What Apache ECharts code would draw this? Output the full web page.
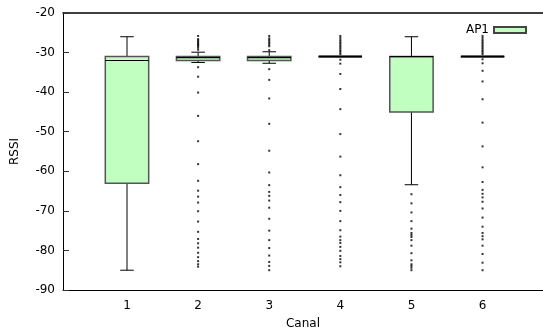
<!DOCTYPE html>
<html>
<head>
<meta charset="utf-8">
<script src="https://cdn.jsdelivr.net/npm/echarts@6/dist/echarts.min.js"></script>
<style>html,body{margin:0;padding:0;background:#fff}#c{width:543px;height:336px}</style>
</head>
<body>
<div id="c"></div>
<script>
var channels = [1, 2, 3, 4, 5, 6];
var xTickLabels = ['1', '2', '3', '4', '5', '6'];
var yTicks = [-90, -80, -70, -60, -50, -40, -30, -20];
// [min whisker, Q1, median, Q3, max whisker]
var boxStats = [
  [-85, -63, -32, -31, -26],
  [-32.5, -32, -31.3, -31, -29.9],
  [-32.7, -32, -31.3, -31, -29.8],
  [-31, -31, -31, -31, -31],
  [-63.4, -45, -31, -31, -26],
  [-31, -31, -31, -31, -31]
];
var outliers1 = [];
var outliers2 = [-25.8, -26.6, -26.9, -27.2, -27.5, -27.8, -28.1, -28.4, -28.8, -29.3,
  -33.7, -36.1, -40.1, -46.0, -52.4, -58.2, -62.4, -64.9, -66.4, -67.9, -70.1, -72.7,
  -75.3, -77.1, -78.2, -79.3, -80.6, -81.7, -82.7, -83.5, -84.1];
var outliers3 = [-25.8, -26.4, -26.8, -27.2, -27.6, -28.0, -28.4, -29.4,
  -34.2, -36.9, -41.6, -48.0, -54.8, -60.3, -63.5, -65.2, -66.2, -67.4, -69.2, -72.0,
  -75.0, -77.4, -79.4, -81.3, -82.9, -83.9, -85.0];
var outliers4 = [-25.8, -26.3, -26.8, -27.2, -27.6, -28.0, -28.4, -28.8, -29.2, -29.6, -30.0, -30.4,
  -31.8, -32.8, -35.4, -39.2, -44.3, -50.6, -56.3, -61.0, -64.0, -66.0, -67.8, -70.0,
  -72.6, -74.9, -76.5, -77.4, -78.1, -79.1, -80.1, -81.4, -82.2, -83.0, -84.0];
var outliers5 = [-65.8, -68.1, -70.4, -72.6, -74.5, -75.6, -76.1, -76.6, -77.4, -78.8,
  -80.7, -82.5, -83.5, -83.9, -84.4, -85.0];
var outliers6 = [-25.8, -26.3, -26.8, -27.2, -27.6, -28.0, -28.4, -28.8, -29.2, -29.6, -30.0, -30.4,
  -31.7, -32.7, -34.6, -37.3, -41.8, -47.7, -53.7, -59.0, -62.7, -64.7, -65.7, -66.6,
  -67.7, -69.4, -71.7, -74.0, -75.6, -76.4, -77.2, -78.8, -80.9, -83.1, -85.0];
var outlierLists = [outliers1, outliers2, outliers3, outliers4, outliers5, outliers6];

var boxData = channels.map(function (c, i) { return [c].concat(boxStats[i]); });
var outlierData = [];
outlierLists.forEach(function (list, i) {
  list.forEach(function (v) { outlierData.push([channels[i], v]); });
});

var chart = echarts.init(document.getElementById('c'), null, {renderer: 'canvas'});
var font = 'DejaVu Sans';
chart.setOption({
  animation: false,
  grid: {left: 63, right: 0, top: 13, bottom: 46},
  legend: {
    data: [{name: 'AP1', icon: 'rect'}],
    right: 11, top: 19, align: 'right',
    itemWidth: 32, itemHeight: 6, itemGap: 6,
    textStyle: {fontFamily: font, fontSize: 12, color: '#000'}
  },
  xAxis: [{
    type: 'value', min: 0.1, max: 6.85,
    name: 'Canal', nameLocation: 'middle', nameGap: 28,
    nameTextStyle: {fontFamily: font, fontSize: 12, color: '#000'},
    axisLine: {show: true, onZero: false, lineStyle: {color: '#000', width: 1}},
    axisTick: {show: false},
    splitLine: {show: false},
    axisLabel: {customValues: channels, margin: 10, fontFamily: font, fontSize: 12, color: '#000',
      formatter: function (v) { return xTickLabels[channels.indexOf(v)] || ''; }}
  }, {
    type: 'value', position: 'top', min: 0.1, max: 6.85,
    axisLine: {show: true, onZero: false, lineStyle: {color: '#000', width: 1.5}},
    axisTick: {show: false}, axisLabel: {show: false}, splitLine: {show: false}
  }],
  yAxis: {
    type: 'value', min: -90, max: -20, interval: 10,
    name: 'RSSI', nameLocation: 'middle', nameGap: 42, nameRotate: 90,
    nameTextStyle: {fontFamily: font, fontSize: 12, color: '#000'},
    axisLine: {show: true, onZero: false, lineStyle: {color: '#000', width: 1}},
    axisTick: {show: true, inside: true, length: 6, lineStyle: {color: '#333'}},
    splitLine: {show: false},
    axisLabel: {margin: 8, fontFamily: font, fontSize: 12, color: '#000',
      customValues: yTicks}
  },
  series: [{
    name: 'AP1', type: 'custom',
    itemStyle: {color: '#c0ffc0', borderColor: '#444', borderWidth: 1},
    encode: {x: 0, y: [1, 2, 3, 4, 5]},
    data: boxData,
    renderItem: function (params, api) {
      var x = api.value(0);
      var pMin = api.coord([x, api.value(1)]);
      var pQ1 = api.coord([x, api.value(2)]);
      var pMed = api.coord([x, api.value(3)]);
      var pQ3 = api.coord([x, api.value(4)]);
      var pMax = api.coord([x, api.value(5)]);
      var bw = api.size([0.61, 0])[0];
      var cw = api.size([0.19, 0])[0];
      var cx = pMed[0];
      var ls = {stroke: '#000', lineWidth: 1};
      var children = [
        {type: 'line', shape: {x1: cx, y1: pQ3[1], x2: cx, y2: pMax[1]}, style: ls},
        {type: 'line', shape: {x1: cx, y1: pQ1[1], x2: cx, y2: pMin[1]}, style: ls},
        {type: 'line', shape: {x1: cx - cw / 2, y1: pMax[1], x2: cx + cw / 2, y2: pMax[1]}, style: ls},
        {type: 'line', shape: {x1: cx - cw / 2, y1: pMin[1], x2: cx + cw / 2, y2: pMin[1]}, style: ls},
        {type: 'rect', shape: {x: cx - bw / 2, y: pQ3[1], width: bw, height: pQ1[1] - pQ3[1]},
          style: {fill: '#c0ffc0', stroke: '#555', lineWidth: 1.5}},
        {type: 'line', shape: {x1: cx - bw / 2, y1: pMed[1], x2: cx + bw / 2, y2: pMed[1]},
          style: {stroke: '#000', lineWidth: 1.2}}
      ];
      if (Math.abs(pQ1[1] - pQ3[1]) < 1) {
        children.push({type: 'line', shape: {x1: cx - bw / 2, y1: pMed[1], x2: cx + bw / 2, y2: pMed[1]},
          style: {stroke: '#000', lineWidth: 2}});
      }
      return {type: 'group', children: children};
    },
    z: 2
  }, {
    name: 'outliers', type: 'scatter',
    symbol: 'rect', symbolSize: 2,
    itemStyle: {color: '#000'},
    data: outlierData,
    z: 3
  }]
});
</script>
</body>
</html>
